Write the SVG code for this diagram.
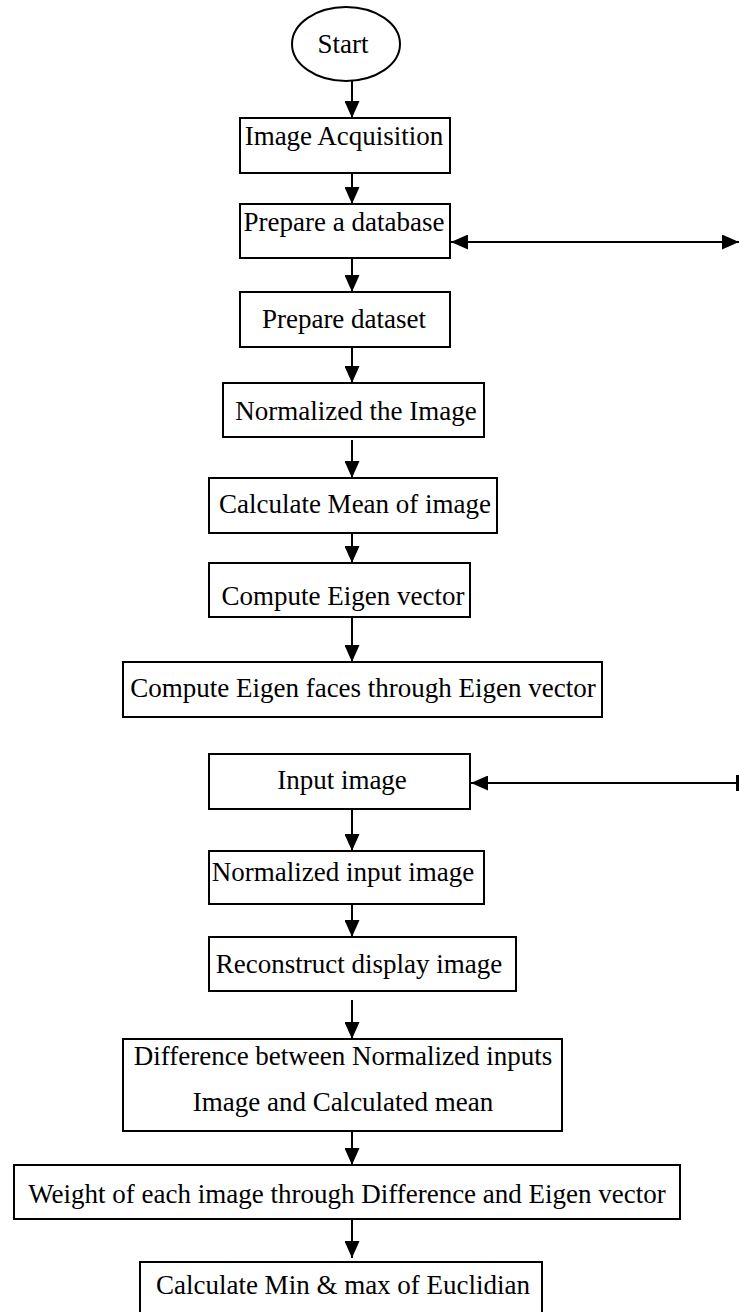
<svg xmlns="http://www.w3.org/2000/svg" width="739" height="1312" viewBox="0 0 739 1312">
  <style>
    .box { fill: #fff; stroke: #000; stroke-width: 2; }
    .lbl { font-family: "Liberation Serif", "Times New Roman", serif; font-size: 27px; fill: #000; text-anchor: middle; }
    .wire { stroke: #000; stroke-width: 2; fill: none; }
  </style>
  <defs>
    <marker id="head" viewBox="0 0 17 15" refX="17" refY="7.5" markerWidth="17" markerHeight="15" markerUnits="userSpaceOnUse" orient="auto-start-reverse">
      <path d="M0,0 L17,7.5 L0,15 Z" fill="#000"/>
    </marker>
  </defs>

  <rect width="739" height="1312" fill="#fff"/>

  <g id="connectors">
    <line class="wire" x1="352" y1="81" x2="352" y2="118" marker-end="url(#head)"/>
    <line class="wire" x1="352" y1="173" x2="352" y2="204" marker-end="url(#head)"/>
    <line class="wire" x1="352" y1="258" x2="352" y2="292" marker-end="url(#head)"/>
    <line class="wire" x1="352" y1="347" x2="352" y2="383" marker-end="url(#head)"/>
    <line class="wire" x1="352" y1="440" x2="352" y2="478" marker-end="url(#head)"/>
    <line class="wire" x1="352" y1="533" x2="352" y2="563" marker-end="url(#head)"/>
    <line class="wire" x1="352" y1="617" x2="352" y2="662" marker-end="url(#head)"/>
    <line class="wire" x1="352" y1="809" x2="352" y2="851" marker-end="url(#head)"/>
    <line class="wire" x1="352" y1="904" x2="352" y2="937" marker-end="url(#head)"/>
    <line class="wire" x1="352" y1="1000" x2="352" y2="1039" marker-end="url(#head)"/>
    <line class="wire" x1="352" y1="1131" x2="352" y2="1165" marker-end="url(#head)"/>
    <line class="wire" x1="352" y1="1219" x2="352" y2="1258" marker-end="url(#head)"/>
    <!-- side links -->
    <line class="wire" x1="451" y1="242" x2="739" y2="242" marker-start="url(#head)" marker-end="url(#head)"/>
    <line class="wire" x1="471" y1="783" x2="738" y2="783" marker-start="url(#head)"/>
    <line x1="737.5" y1="775" x2="737.5" y2="791" stroke="#000" stroke-width="3"/>
  </g>

  <g id="start">
    <ellipse class="box" cx="346" cy="44" rx="54" ry="37"/>
    <text class="lbl" x="343" y="53">Start</text>
  </g>
  <g id="image-acquisition">
    <rect class="box" x="240" y="118" width="210" height="55"/>
    <text class="lbl" x="344" y="145">Image Acquisition</text>
  </g>
  <g id="prepare-database">
    <rect class="box" x="240" y="204" width="210" height="54"/>
    <text class="lbl" x="344" y="231">Prepare a database</text>
  </g>
  <g id="prepare-dataset">
    <rect class="box" x="240" y="292" width="210" height="55"/>
    <text class="lbl" x="344" y="328">Prepare dataset</text>
  </g>
  <g id="normalize-image">
    <rect class="box" x="223" y="383" width="261" height="54"/>
    <text class="lbl" x="356" y="420">Normalized the Image</text>
  </g>
  <g id="mean-image">
    <rect class="box" x="209" y="478" width="288" height="55"/>
    <text class="lbl" x="355" y="513">Calculate Mean of image</text>
  </g>
  <g id="eigen-vector">
    <rect class="box" x="209" y="563" width="261" height="54"/>
    <text class="lbl" x="343" y="605">Compute Eigen vector</text>
  </g>
  <g id="eigen-faces">
    <rect class="box" x="123" y="662" width="479" height="55"/>
    <text class="lbl" x="363" y="697">Compute Eigen faces through Eigen vector</text>
  </g>
  <g id="input-image">
    <rect class="box" x="209" y="754" width="261" height="55"/>
    <text class="lbl" x="342" y="789">Input image</text>
  </g>
  <g id="normalize-input">
    <rect class="box" x="209" y="851" width="275" height="53"/>
    <text class="lbl" x="343" y="881">Normalized input image</text>
  </g>
  <g id="reconstruct">
    <rect class="box" x="209" y="937" width="307" height="54"/>
    <text class="lbl" x="359" y="973">Reconstruct display image</text>
  </g>
  <g id="difference">
    <rect class="box" x="123" y="1039" width="439" height="92"/>
    <text class="lbl" x="343" y="1065">Difference between Normalized inputs</text>
    <text class="lbl" x="343" y="1111">Image and Calculated mean</text>
  </g>
  <g id="weights">
    <rect class="box" x="14" y="1165" width="666" height="54"/>
    <text class="lbl" x="347" y="1203">Weight of each image through Difference and Eigen vector</text>
  </g>
  <g id="euclidean">
    <rect class="box" x="140" y="1262" width="402" height="60"/>
    <text class="lbl" x="343" y="1294">Calculate Min &amp; max of Euclidian</text>
  </g>
</svg>
